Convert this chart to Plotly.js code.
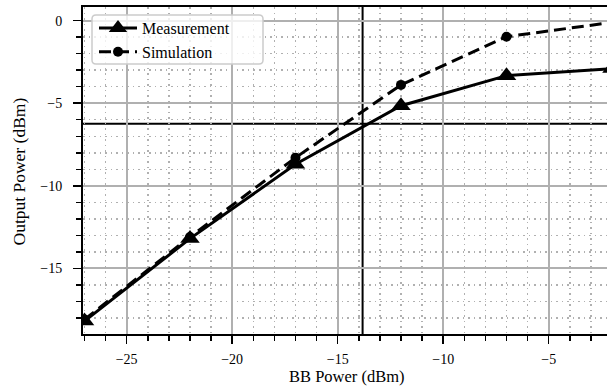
<!DOCTYPE html>
<html>
<head>
<meta charset="utf-8">
<script src="https://cdn.plot.ly/plotly-3.0.1.min.js"></script>
<style>
  html, body { margin: 0; padding: 0; overflow: hidden; background: #fff; }
  #chart { width: 607px; height: 386px; }
</style>
</head>
<body>
<div id="chart"></div>
<script>
// ---- data ----
const bbPower = [-27, -22, -17, -12, -7, -2];                 // BB Power (dBm)
const measurement = [-18.2, -13.2, -8.7, -5.15, -3.33, -2.9]; // Output Power (dBm)
const simulation  = [-18.1, -13.1, -8.3, -3.89, -0.97, -0.1]; // Output Power (dBm)
const seriesNames = ["Measurement", "Simulation"];
const compressionInput = -13.82;   // vertical marker line (dBm)
const compressionOutput = -6.25;   // horizontal marker line (dBm)
const xTitle = "BB Power (dBm)";
const yTitle = "Output Power (dBm)";

const FONT = "Liberation Serif";
const GRID = "#b0b0b0";

// plot-area geometry in pixels (for placing legend box / titles)
const W = 607, H = 386, ML = 83, MT = 7, MB = 52;
const PW = W - ML, PH = H - MT - MB;
const px = v => (v - ML) / PW;          // page x -> paper x
const py = v => 1 - (v - MT) / PH;      // page y -> paper y

function roundRect(x0p, y0p, x1p, y1p, r) {
  const a = px(x0p), b = px(x1p), t = py(y0p), u = py(y1p);
  const rx = r / PW, ry = r / PH;
  return `M${a + rx},${t} L${b - rx},${t} Q${b},${t} ${b},${t - ry} L${b},${u + ry} Q${b},${u} ${b - rx},${u} ` +
         `L${a + rx},${u} Q${a},${u} ${a},${u + ry} L${a},${t - ry} Q${a},${t} ${a + rx},${t} Z`;
}

const traces = [
  {
    x: bbPower, y: measurement, name: seriesNames[0],
    type: "scatter", mode: "lines+markers",
    line: { color: "#000", width: 3 },
    marker: { symbol: "triangle-up", size: 17, color: "#000" }
  },
  {
    x: bbPower, y: simulation, name: seriesNames[1],
    type: "scatter", mode: "lines+markers",
    line: { color: "#000", width: 3, dash: "12px,6px" },
    marker: { symbol: "circle", size: 10, color: "#000" }
  }
];

const axisCommon = {
  showline: true, linecolor: "#000", linewidth: 2,
  ticks: "outside", ticklen: 8, tickwidth: 1.5, tickcolor: "#000",
  showgrid: true, gridcolor: GRID, gridwidth: 2,
  zeroline: false,
  tickfont: { family: FONT, size: 14, color: "#000" },
  minor: {
    dtick: 1, tick0: 0, ticks: "outside", ticklen: 5, tickwidth: 1.5, tickcolor: "#000",
    showgrid: true, gridcolor: GRID, gridwidth: 1.5, griddash: "1.5px,4px"
  }
};

const layout = {
  width: W, height: H,
  margin: { l: ML, r: 0, t: MT, b: MB, pad: 0 },
  paper_bgcolor: "#fff", plot_bgcolor: "#fff",
  font: { family: FONT, color: "#000" },
  showlegend: true,
  xaxis: Object.assign({}, axisCommon, {
    range: [-27.07, -2.237], dtick: 5, tick0: 0, mirror: true,
    ticklabelstandoff: 3
  }),
  yaxis: Object.assign({}, axisCommon, {
    range: [-18.98, 0.83], dtick: 5, tick0: 0, mirror: false,
    ticklabelstandoff: 8
  }),
  legend: {
    x: px(94), y: py(11), xanchor: "left", yanchor: "top",
    bgcolor: "rgba(0,0,0,0)", borderwidth: 0, itemwidth: 38,
    font: { family: FONT, size: 16, color: "#000" }
  },
  annotations: [
    { xref: "paper", yref: "paper", x: px(347.4), y: py(364.5), xanchor: "center", yanchor: "top",
      text: xTitle, showarrow: false, font: { family: FONT, size: 16.5, color: "#000" } },
    { xref: "paper", yref: "paper", x: px(18.5), y: py(172), xanchor: "center", yanchor: "middle",
      textangle: -90, text: yTitle, showarrow: false, font: { family: FONT, size: 17.5, color: "#000" } }
  ],
  shapes: [
    { type: "line", xref: "x", yref: "paper", x0: compressionInput, x1: compressionInput, y0: 0, y1: 1,
      line: { color: "#000", width: 2 }, layer: "between" },
    { type: "line", xref: "paper", yref: "y", x0: 0, x1: 1, y0: compressionOutput, y1: compressionOutput,
      line: { color: "#000", width: 2 }, layer: "between" },
    { type: "path", xref: "paper", yref: "paper", path: roundRect(92, 15, 263, 64, 4),
      fillcolor: "rgba(255,255,255,0.8)", line: { color: "#cccccc", width: 1.5 }, layer: "above" }
  ]
};

Plotly.newPlot("chart", traces, layout, { staticPlot: true, displayModeBar: false });
</script>
</body>
</html>
